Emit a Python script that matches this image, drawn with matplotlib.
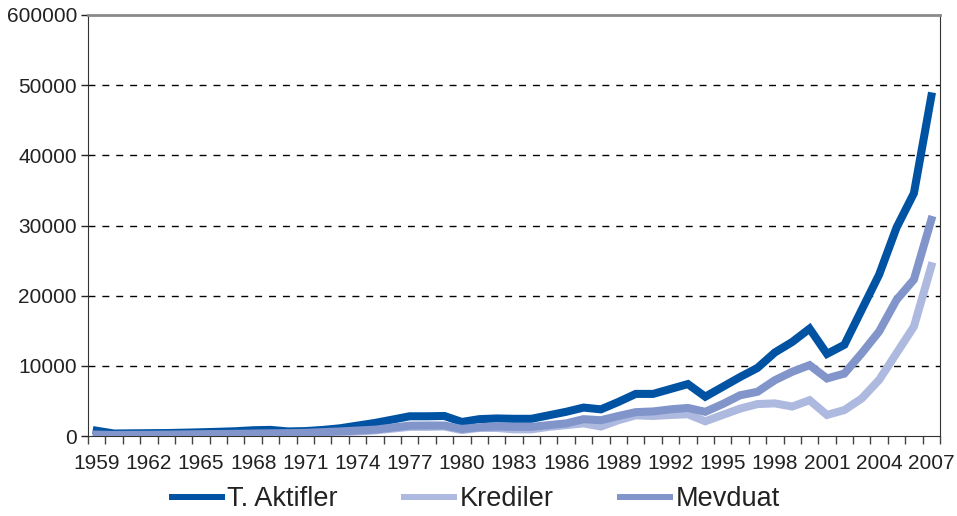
import matplotlib
matplotlib.use("Agg")
import matplotlib.pyplot as plt

plt.rcParams['font.family'] = ['Liberation Sans', 'DejaVu Sans']

years = list(range(1959, 2008))

# T. Aktifler
aktifler = [750, 350, 380, 400, 420, 470, 530, 600, 680, 820,
            870, 650, 700, 860, 1100, 1480, 1860, 2330, 2810, 2810,
            2850, 2000, 2400, 2500, 2450, 2450, 2950, 3450, 4050, 3800,
            4850, 6000, 6000, 6700, 7400, 5600, 7000, 8400, 9700, 11900,
            13400, 15300, 11700, 13000, 18000, 23000, 29700, 34600, 48400]

# Krediler
krediler = [120, 100, 110, 120, 130, 150, 170, 190, 220, 250,
            280, 300, 350, 420, 520, 650, 800, 1050, 1300, 1300,
            1350, 850, 1150, 1150, 950, 950, 1300, 1550, 1800, 1350,
            2250, 2950, 2850, 3000, 3100, 2100, 3000, 3900, 4550, 4650,
            4200, 5100, 3000, 3700, 5350, 8000, 11800, 15600, 24200]

# Mevduat
mevduat = [200, 150, 170, 180, 200, 220, 250, 280, 310, 350,
           380, 400, 450, 550, 650, 780, 900, 1200, 1480, 1500,
           1500, 1000, 1250, 1350, 1300, 1300, 1550, 1800, 2400, 2250,
           2850, 3400, 3500, 3800, 4000, 3450, 4550, 5800, 6300, 7950,
           9150, 10100, 8200, 8900, 11800, 14900, 19400, 22300, 30800]

ytick_vals = [0, 10000, 20000, 30000, 40000, 50000, 60000]
ytick_labels = ['0', '10000', '20000', '30000', '40000', '50000', '600000']

fig = plt.figure(figsize=(9.57, 5.16), dpi=100)
ax = fig.add_axes([88/957, 80/516, 852/957, 421/516])

lw = 5.8
ax.plot(years, aktifler, color='#0052A3', lw=lw, solid_joinstyle='miter', label='T. Aktifler', zorder=3)
ax.plot(years, krediler, color='#AEB9E0', lw=lw, solid_joinstyle='miter', label='Krediler', zorder=4)
ax.plot(years, mevduat, color='#8295CA', lw=lw, solid_joinstyle='miter', label='Mevduat', zorder=5)

ax.set_xlim(1958.5, 2007.5)
ax.set_ylim(0, 60000)

# gridlines
for v in ytick_vals[1:-1]:
    ax.axhline(v, color='black', lw=1, ls=(0, (5, 5)), zorder=1)

ax.set_yticks(ytick_vals)
ax.set_yticklabels(ytick_labels)
ax.tick_params(axis='y', length=5, width=1, labelsize=15, pad=3, colors='#222222')

# tick marks between categories, labels every 3 years
ax.set_xticks([y + 0.5 for y in range(1958, 2008)])
ax.set_xticklabels([])
ax.tick_params(axis='x', which='major', length=6, width=1, color='#444444')
ax.set_xticks(years[::3], minor=True)
ax.set_xticklabels([str(y) for y in years[::3]], minor=True)
ax.tick_params(axis='x', which='minor', length=0, labelsize=15, pad=13, labelcolor='#222222')

ax.spines['top'].set_color('#8a8a8a')
ax.spines['top'].set_linewidth(2)
ax.spines['right'].set_color('#333333')
ax.spines['left'].set_color('#333333')
ax.spines['bottom'].set_color('#333333')

leg = fig.legend(loc='center', bbox_to_anchor=(0.497, 0.032), ncol=3, frameon=False,
                 fontsize=19.5, handlelength=1.85, handletextpad=0.2, columnspacing=2.45,
                 labelcolor='#222222')
for h in leg.legend_handles:
    h.set_linewidth(4.3)

fig.savefig('out.png', dpi=100)
